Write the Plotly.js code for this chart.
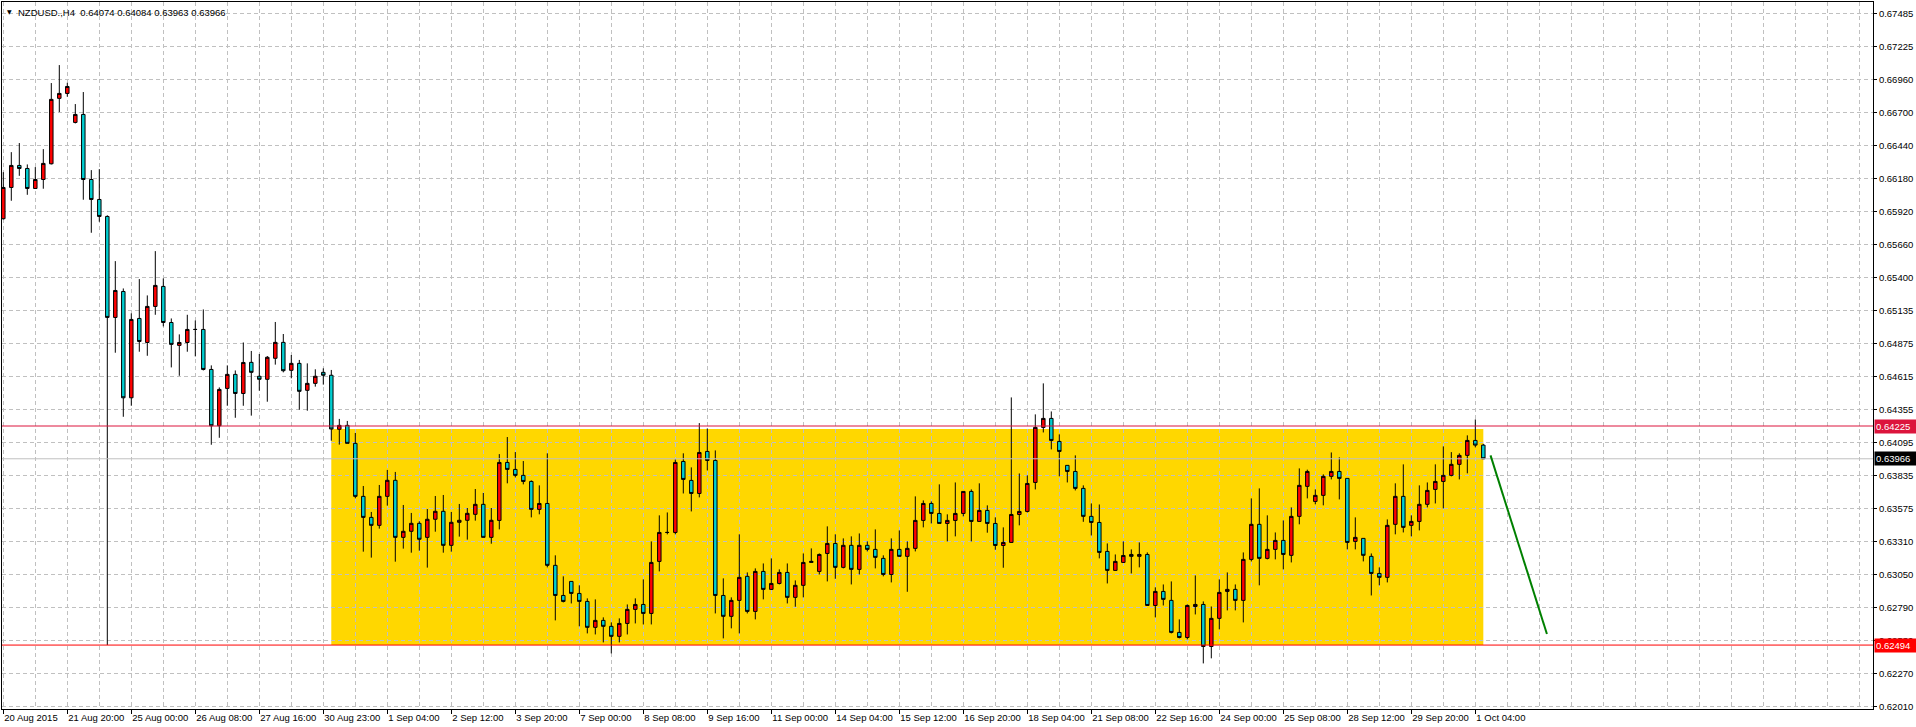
<!DOCTYPE html>
<html>
<head>
<meta charset="utf-8">
<script src="https://cdn.plot.ly/plotly-3.0.1.min.js"></script>
<style>
html,body{margin:0;padding:0;background:#ffffff;}
#chart{width:1916px;height:727px;}
</style>
</head>
<body>
<div id="chart"></div>
<script>
// ---- data (NZDUSD H4) ----
const symbol = "NZDUSD.,H4";

const openP = [
0.65863,0.66110,0.66284,0.66260,0.66102,0.66173,0.66297,0.66814,0.66853,0.66624,
0.66687,0.66173,0.66015,0.65881,0.65083,0.65288,0.64448,0.65075,0.64885,0.65170,
0.65328,0.65043,0.64862,0.64885,0.64988,0.64988,0.64672,0.64227,0.64522,0.64633,
0.64482,0.64728,0.64618,0.64594,0.64760,0.64886,0.64665,0.64720,0.64507,0.64562,
0.64649,0.64626,0.64199,0.64230,0.64088,0.63669,0.63503,0.63440,0.63669,0.63796,
0.63345,0.63393,0.63456,0.63345,0.63488,0.63551,0.63282,0.63464,0.63480,0.63527,
0.63606,0.63345,0.63479,0.63937,0.63882,0.63835,0.63787,0.63566,0.63613,0.63124,
0.62886,0.62997,0.62902,0.62839,0.62634,0.62689,0.62642,0.62563,0.62665,0.62776,
0.62815,0.62744,0.63155,0.63384,0.63384,0.63945,0.63795,0.63692,0.64024,0.63953,
0.62886,0.62721,0.62847,0.63037,0.62760,0.63076,0.62934,0.62981,0.63068,0.62871,
0.62966,0.63147,0.63076,0.63218,0.63297,0.63108,0.63282,0.63092,0.63282,0.63250,
0.63179,0.63052,0.63250,0.63195,0.63258,0.63479,0.63613,0.63534,0.63455,0.63479,
0.63534,0.63708,0.63471,0.63558,0.63455,0.63281,0.63305,0.63526,0.63550,0.63779,
0.64214,0.64285,0.64103,0.63914,0.63866,0.63732,0.63511,0.63463,0.63234,0.63084,
0.63147,0.63210,0.63195,0.63210,0.62807,0.62918,0.62847,0.62594,0.62554,0.62799,
0.62815,0.62483,0.62705,0.62918,0.62934,0.62847,0.63171,0.63448,0.63179,0.63250,
0.63321,0.63203,0.63511,0.63748,0.63629,0.63677,0.63827,0.63866,0.63811,0.63313,
0.63337,0.63195,0.63060,0.63029,0.63448,0.63669,0.63440,0.63471,0.63606,0.63724,
0.63787,0.63835,0.63922,0.63993,0.64111,0.64074
];
const highP = [
0.66231,0.66389,0.66461,0.66292,0.66271,0.66413,0.66935,0.67077,0.66937,0.66769,
0.66864,0.66247,0.66255,0.65890,0.65528,0.65312,0.65115,0.65386,0.65257,0.65607,
0.65391,0.65075,0.64949,0.65104,0.65059,0.65146,0.64704,0.64530,0.64704,0.64664,
0.64885,0.64818,0.64794,0.64778,0.65047,0.64952,0.64786,0.64747,0.64720,0.64673,
0.64681,0.64668,0.64281,0.64265,0.64170,0.63751,0.63546,0.63759,0.63878,0.63862,
0.63601,0.63538,0.63472,0.63569,0.63672,0.63680,0.63546,0.63609,0.63577,0.63727,
0.63696,0.63577,0.64003,0.64138,0.64019,0.63948,0.63795,0.63756,0.64009,0.63203,
0.63037,0.62997,0.62966,0.62863,0.62855,0.62713,0.62673,0.62705,0.62815,0.62863,
0.63013,0.63313,0.63519,0.63542,0.63961,0.64009,0.63898,0.64248,0.64206,0.64032,
0.63021,0.62871,0.63369,0.63068,0.63100,0.63139,0.63179,0.63092,0.63139,0.63005,
0.63218,0.63258,0.63218,0.63432,0.63369,0.63337,0.63353,0.63376,0.63313,0.63408,
0.63203,0.63337,0.63400,0.63313,0.63669,0.63637,0.63629,0.63764,0.63527,0.63779,
0.63708,0.63724,0.63772,0.63598,0.63503,0.63424,0.64451,0.63850,0.63835,0.64317,
0.64562,0.64340,0.64159,0.63914,0.63993,0.63756,0.63613,0.63605,0.63297,0.63210,
0.63313,0.63250,0.63305,0.63226,0.62950,0.62973,0.62997,0.62697,0.62815,0.63044,
0.62839,0.62799,0.63013,0.63068,0.62973,0.63226,0.63653,0.63732,0.63519,0.63384,
0.63479,0.63582,0.63890,0.63880,0.63724,0.63843,0.64016,0.63977,0.63811,0.63503,
0.63337,0.63218,0.63108,0.63487,0.63772,0.63922,0.63519,0.63756,0.63779,0.63922,
0.64064,0.64019,0.64009,0.64151,0.64277,0.64084
];
const lowP = [
0.65857,0.66005,0.66202,0.66052,0.66100,0.66100,0.66292,0.66706,0.66827,0.66616,
0.66013,0.65752,0.65839,0.62494,0.64804,0.64298,0.64385,0.64812,0.64780,0.65104,
0.65012,0.64688,0.64622,0.64812,0.64775,0.64664,0.64077,0.64132,0.64385,0.64290,
0.64385,0.64307,0.64504,0.64417,0.64710,0.64649,0.64602,0.64354,0.64346,0.64536,
0.64552,0.64109,0.64078,0.64088,0.63654,0.63232,0.63185,0.63414,0.63596,0.63153,
0.63256,0.63224,0.63240,0.63106,0.63390,0.63224,0.63232,0.63351,0.63327,0.63477,
0.63345,0.63295,0.63408,0.63772,0.63819,0.63764,0.63503,0.63527,0.63108,0.62689,
0.62831,0.62823,0.62642,0.62586,0.62578,0.62515,0.62428,0.62515,0.62578,0.62665,
0.62657,0.62657,0.63076,0.63369,0.63369,0.63692,0.63550,0.63661,0.63874,0.62744,
0.62547,0.62626,0.62586,0.62744,0.62697,0.62855,0.62931,0.62973,0.62823,0.62797,
0.62871,0.63145,0.63052,0.62997,0.63018,0.63100,0.62973,0.63052,0.63234,0.63100,
0.63037,0.62989,0.63192,0.62915,0.63234,0.63424,0.63455,0.63455,0.63313,0.63353,
0.63511,0.63313,0.63469,0.63382,0.63247,0.63105,0.63303,0.63440,0.63542,0.63724,
0.64174,0.64040,0.63827,0.63779,0.63716,0.63468,0.63360,0.63179,0.62981,0.63081,
0.63144,0.63060,0.63108,0.62805,0.62713,0.62807,0.62586,0.62547,0.62539,0.62736,
0.62349,0.62389,0.62618,0.62768,0.62768,0.62673,0.63155,0.62966,0.63171,0.63171,
0.63092,0.63147,0.63448,0.63653,0.63606,0.63598,0.63803,0.63645,0.63250,0.63250,
0.63155,0.62886,0.62966,0.62989,0.63369,0.63384,0.63353,0.63400,0.63582,0.63613,
0.63574,0.63827,0.63803,0.63851,0.64056,0.63963
];
const closeP = [
0.66110,0.66284,0.66260,0.66102,0.66173,0.66300,0.66806,0.66853,0.66908,0.66687,
0.66173,0.66015,0.65881,0.65083,0.65296,0.64448,0.65067,0.64893,0.65170,0.65336,
0.65043,0.64870,0.64885,0.64988,0.64988,0.64672,0.64227,0.64514,0.64633,0.64482,
0.64727,0.64649,0.64594,0.64768,0.64886,0.64662,0.64720,0.64499,0.64562,0.64618,
0.64626,0.64201,0.64230,0.64088,0.63669,0.63503,0.63440,0.63669,0.63796,0.63345,
0.63393,0.63456,0.63330,0.63488,0.63551,0.63282,0.63464,0.63480,0.63535,0.63606,
0.63345,0.63480,0.63937,0.63882,0.63835,0.63787,0.63566,0.63613,0.63124,0.62886,
0.62839,0.62902,0.62839,0.62634,0.62689,0.62642,0.62563,0.62665,0.62776,0.62815,
0.62744,0.63147,0.63384,0.63384,0.63937,0.63803,0.63692,0.64016,0.63953,0.62886,
0.62721,0.62847,0.63029,0.62760,0.63076,0.62934,0.62981,0.63068,0.62871,0.62966,
0.63147,0.63155,0.63210,0.63297,0.63108,0.63282,0.63092,0.63282,0.63250,0.63187,
0.63052,0.63250,0.63195,0.63258,0.63479,0.63613,0.63534,0.63455,0.63479,0.63534,
0.63708,0.63471,0.63558,0.63455,0.63281,0.63305,0.63526,0.63550,0.63771,0.64214,
0.64285,0.64111,0.64024,0.63866,0.63732,0.63511,0.63463,0.63226,0.63084,0.63155,
0.63202,0.63195,0.63210,0.62807,0.62918,0.62855,0.62594,0.62554,0.62807,0.62815,
0.62483,0.62705,0.62910,0.62934,0.62847,0.63171,0.63448,0.63179,0.63250,0.63321,
0.63210,0.63511,0.63756,0.63866,0.63677,0.63827,0.63866,0.63811,0.63305,0.63345,
0.63203,0.63060,0.63029,0.63440,0.63669,0.63424,0.63471,0.63606,0.63716,0.63787,
0.63835,0.63922,0.63993,0.64111,0.64074,0.63966
];

const timeLabels = ["20 Aug 2015","21 Aug 20:00","25 Aug 00:00","26 Aug 08:00","27 Aug 16:00",
  "30 Aug 23:00","1 Sep 04:00","2 Sep 12:00","3 Sep 20:00","7 Sep 00:00","8 Sep 08:00",
  "9 Sep 16:00","11 Sep 00:00","14 Sep 04:00","15 Sep 12:00","16 Sep 20:00","18 Sep 04:00",
  "21 Sep 08:00","22 Sep 16:00","24 Sep 00:00","25 Sep 08:00","28 Sep 12:00","29 Sep 20:00",
  "1 Oct 04:00"];
const priceTickText = ["0.67485","0.67225","0.66960","0.66700","0.66440","0.66180","0.65920",
  "0.65660","0.65400","0.65135","0.64875","0.64615","0.64355","0.64095","0.63835","0.63575",
  "0.63310","0.63050","0.62790","0.62530","0.62270","0.62010"];

// drawn objects (prices)
const resistanceLevel = 0.64225;
const supportLevel = 0.62494;
const bidLevel = 0.63966;
const zoneBars = [41, 185];
const zonePrices = [0.62494, 0.64201];
const trendBars = [185.9, 192.95];
const trendPrices = [0.63993, 0.62581];

// ---- build ----
const nBars = openP.length;
const barIdx = openP.map((_, i) => i);
const labelEvery = 8;
const xTickVals = timeLabels.map((_, i) => i * labelEvery);
const minorVals = [];
for (let v = 0; v <= 236; v += 4) minorVals.push(v);
const yTickVals = priceTickText.map(Number);

const gridCol = '#c0c0c0';
const gridDash = '4px,3px';
const FONT2 = '"Liberation Sans", Arial, sans-serif';
const FS = 9.5;

const trace = {
  type: 'candlestick',
  x: barIdx,
  open: openP, high: highP, low: lowP, close: closeP,
  increasing: {line: {color: '#000000', width: 1}, fillcolor: '#ff0000'},
  decreasing: {line: {color: '#000000', width: 1}, fillcolor: '#00ced1'},
  whiskerwidth: 0,
  hoverinfo: 'skip',
  showlegend: false
};

const last = nBars - 1;
const f5 = v => v.toFixed(5);
const titleText = symbol + '\u00a0\u00a0' + [openP[last], highP[last], lowP[last], closeP[last]].map(f5).join(' ');

function priceBox(y, bg) {
  return {xref: 'paper', x: 1, xanchor: 'left', xshift: 1, yref: 'y', y: y, yanchor: 'middle',
    text: f5(y), showarrow: false, bgcolor: bg, font: {family: FONT2, size: FS, color: '#ffffff'},
    width: 39, height: 11, align: 'left', borderpad: 1};
}

const layout = {
  width: 1916, height: 727,
  margin: {l: 2, r: 43, t: 2, b: 18, pad: 0},
  paper_bgcolor: '#ffffff', plot_bgcolor: '#ffffff',
  showlegend: false,
  boxgap: 0.38,
  font: {family: FONT2, size: FS, color: '#000000'},
  xaxis: {
    type: 'linear', range: [-0.1625, 233.71], rangeslider: {visible: false},
    tickmode: 'array', tickvals: xTickVals, ticktext: timeLabels,
    tickangle: 0,
    ticks: 'outside', ticklen: 4, tickwidth: 1, tickcolor: '#000000',
    ticklabelposition: 'outside right',
    showgrid: true, gridcolor: gridCol, griddash: gridDash, gridwidth: 1,
    minor: {tickmode: 'array', tickvals: minorVals, showgrid: true, gridcolor: gridCol, griddash: gridDash, gridwidth: 1, ticks: ''},
    showline: true, linecolor: '#000000', linewidth: 1, mirror: true,
    zeroline: false, fixedrange: true, automargin: false,
    tickfont: {family: FONT2, size: FS, color: '#000000'}
  },
  yaxis: {
    side: 'right', range: [0.619888, 0.675755],
    tickmode: 'array', tickvals: yTickVals, ticktext: priceTickText,
    ticks: 'outside', ticklen: 3, tickwidth: 1, tickcolor: '#000000',
    showgrid: true, gridcolor: gridCol, griddash: gridDash, gridwidth: 1,
    showline: true, linecolor: '#000000', linewidth: 1, mirror: true,
    zeroline: false, fixedrange: true, automargin: false,
    tickfont: {family: FONT2, size: FS, color: '#000000'}
  },
  shapes: [
    {type: 'rect', xref: 'x', yref: 'y', x0: zoneBars[0], x1: zoneBars[1], y0: zonePrices[0], y1: zonePrices[1],
     fillcolor: '#ffd700', line: {width: 0}, layer: 'below'},
    {type: 'line', xref: 'paper', yref: 'y', x0: 0, x1: 1, y0: bidLevel, y1: bidLevel,
     line: {color: '#c0c0c0', width: 1}, layer: 'above'},
    {type: 'line', xref: 'paper', yref: 'y', x0: 0, x1: 1, y0: resistanceLevel, y1: resistanceLevel,
     line: {color: '#dc143c', width: 1}, layer: 'above'},
    {type: 'line', xref: 'paper', yref: 'y', x0: 0, x1: 1, y0: supportLevel, y1: supportLevel,
     line: {color: '#ff0000', width: 1}, layer: 'above'},
    {type: 'line', xref: 'x', yref: 'y', x0: trendBars[0], x1: trendBars[1], y0: trendPrices[0], y1: trendPrices[1],
     line: {color: '#008000', width: 2}, layer: 'above'}
  ],
  annotations: [
    {xref: 'paper', yref: 'paper', x: 0, y: 1, xanchor: 'left', yanchor: 'top', xshift: 3, yshift: -4,
     text: '\u25BC', showarrow: false, font: {family: '"DejaVu Sans", sans-serif', size: 6, color: '#000000'}},
    {xref: 'paper', yref: 'paper', x: 0, y: 1, xanchor: 'left', yanchor: 'top', xshift: 14, yshift: -3,
     text: titleText, showarrow: false, font: {family: FONT2, size: FS, color: '#000000'}},
    priceBox(resistanceLevel, '#dc143c'),
    priceBox(bidLevel, '#000000'),
    priceBox(supportLevel, '#ff0000')
  ]
};

Plotly.newPlot('chart', [trace], layout, {displayModeBar: false, staticPlot: true});
</script>
</body>
</html>
